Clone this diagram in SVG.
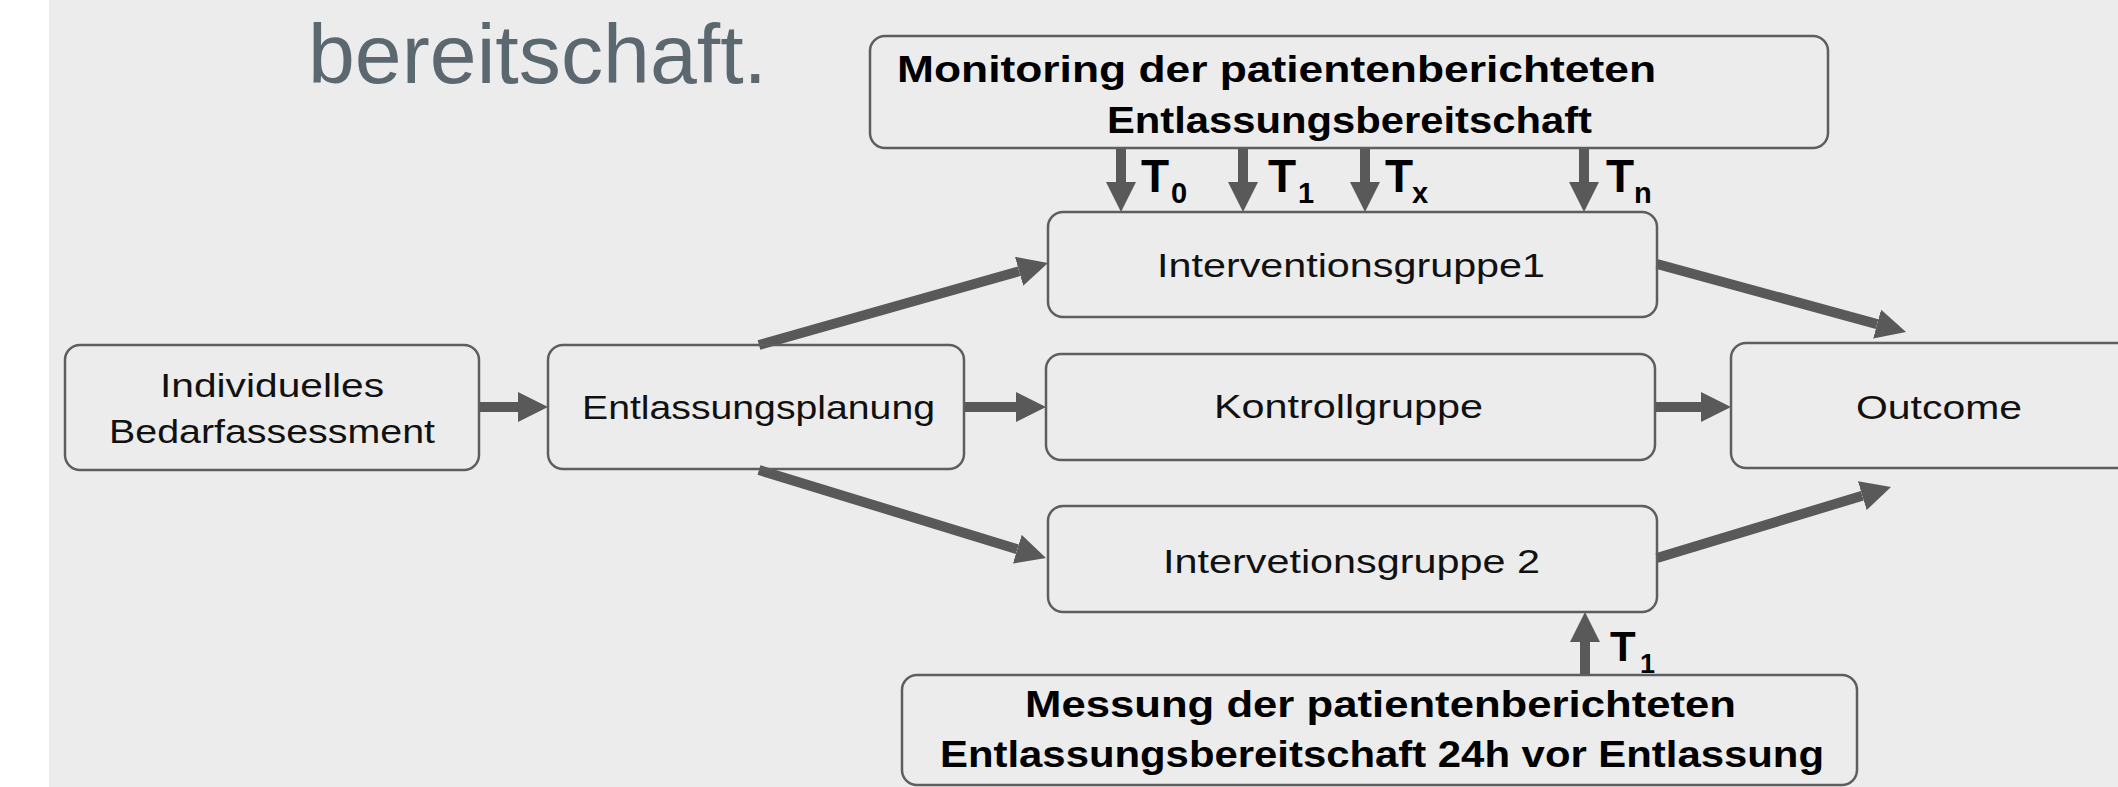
<svg xmlns="http://www.w3.org/2000/svg" width="2118" height="787" viewBox="0 0 2118 787">
  <defs>
    <marker id="ah" markerUnits="userSpaceOnUse" markerWidth="31" markerHeight="31" refX="0" refY="15" orient="auto">
      <path d="M0,0 L30,15 L0,30 z" fill="#595959"/>
    </marker>
    <style>
      .box { fill: none; stroke: #5e5e5e; stroke-width: 2.5; }
      .conn { stroke: #595959; stroke-width: 10; fill: none; marker-end: url(#ah); }
      .t { font-family: "Liberation Sans", Arial, sans-serif; font-size: 34px; fill: #111; }
      .b { font-family: "Liberation Sans", Arial, sans-serif; font-size: 36px; font-weight: bold; fill: #000; }
      .tl { font-family: "Liberation Sans", Arial, sans-serif; font-size: 46px; font-weight: bold; fill: #000; }
      .ts { font-family: "Liberation Sans", Arial, sans-serif; font-size: 29px; font-weight: bold; fill: #000; }
    </style>
  </defs>
  <rect x="0" y="0" width="2118" height="787" fill="#ffffff"/>
  <rect x="49" y="0" width="2069" height="787" fill="#ececec"/>

  <text x="308" y="83" font-family="Liberation Sans, Arial, sans-serif" font-size="84" fill="#5c6870" textLength="459" lengthAdjust="spacingAndGlyphs">bereitschaft.</text>

  <g id="connectors">
    <line class="conn" x1="479" y1="407" x2="518" y2="407"/>
    <line class="conn" x1="964" y1="407" x2="1016" y2="407"/>
    <line class="conn" x1="1655" y1="407" x2="1701" y2="407"/>
    <line class="conn" x1="759" y1="345" x2="1019.1" y2="271.2"/>
    <line class="conn" x1="759" y1="470" x2="1017.3" y2="549.2"/>
    <line class="conn" x1="1657" y1="264" x2="1877.1" y2="324.1"/>
    <line class="conn" x1="1657" y1="558" x2="1862.3" y2="495.7"/>
    <line class="conn" x1="1121" y1="148" x2="1121" y2="182"/>
    <line class="conn" x1="1243" y1="148" x2="1243" y2="182"/>
    <line class="conn" x1="1365" y1="148" x2="1365" y2="182"/>
    <line class="conn" x1="1584" y1="148" x2="1584" y2="182"/>
    <line class="conn" x1="1585" y1="675" x2="1585" y2="642"/>
  </g>

  <g id="labels-t">
    <text class="tl" x="1141" y="192">T</text><text class="ts" x="1171" y="203">0</text>
    <text class="tl" x="1268" y="192">T</text><text class="ts" x="1298" y="203">1</text>
    <text class="tl" x="1385" y="192">T</text><text class="ts" x="1412" y="203">x</text>
    <text class="tl" x="1606" y="192">T</text><text class="ts" x="1634" y="203">n</text>
    <text class="tl" x="1610" y="661" style="font-size:42px">T</text><text class="ts" x="1640" y="673" style="font-size:27px">1</text>
  </g>

  <g id="monitoring">
    <rect class="box" x="870" y="36" width="958" height="112" rx="15"/>
    <text class="b" x="897" y="82" textLength="759" lengthAdjust="spacingAndGlyphs">Monitoring der patientenberichteten</text>
    <text class="b" x="1107" y="133" textLength="485" lengthAdjust="spacingAndGlyphs">Entlassungsbereitschaft</text>
  </g>

  <g id="individuelles">
    <rect class="box" x="65" y="345" width="414" height="125" rx="15"/>
    <text class="t" x="160" y="397" textLength="224" lengthAdjust="spacingAndGlyphs">Individuelles</text>
    <text class="t" x="109" y="443" textLength="326" lengthAdjust="spacingAndGlyphs">Bedarfassessment</text>
  </g>

  <g id="entlassungsplanung">
    <rect class="box" x="548" y="345" width="416" height="124" rx="15"/>
    <text class="t" x="582" y="419" textLength="353" lengthAdjust="spacingAndGlyphs">Entlassungsplanung</text>
  </g>

  <g id="interventionsgruppe1">
    <rect class="box" x="1048" y="212" width="609" height="105" rx="15"/>
    <text class="t" x="1157" y="277" textLength="388" lengthAdjust="spacingAndGlyphs">Interventionsgruppe1</text>
  </g>

  <g id="kontrollgruppe">
    <rect class="box" x="1046" y="354" width="609" height="106" rx="15"/>
    <text class="t" x="1214" y="418" textLength="269" lengthAdjust="spacingAndGlyphs">Kontrollgruppe</text>
  </g>

  <g id="interventionsgruppe2">
    <rect class="box" x="1048" y="506" width="609" height="106" rx="15"/>
    <text class="t" x="1163" y="573" textLength="377" lengthAdjust="spacingAndGlyphs">Intervetionsgruppe 2</text>
  </g>

  <g id="outcome">
    <rect class="box" x="1731" y="343" width="420" height="125" rx="15"/>
    <text class="t" x="1856" y="419" textLength="166" lengthAdjust="spacingAndGlyphs">Outcome</text>
  </g>

  <g id="messung">
    <rect class="box" x="902" y="675" width="955" height="110" rx="15"/>
    <text class="b" x="1025" y="717" textLength="711" lengthAdjust="spacingAndGlyphs">Messung der patientenberichteten</text>
    <text class="b" x="940" y="767" textLength="884" lengthAdjust="spacingAndGlyphs">Entlassungsbereitschaft 24h vor Entlassung</text>
  </g>
</svg>
